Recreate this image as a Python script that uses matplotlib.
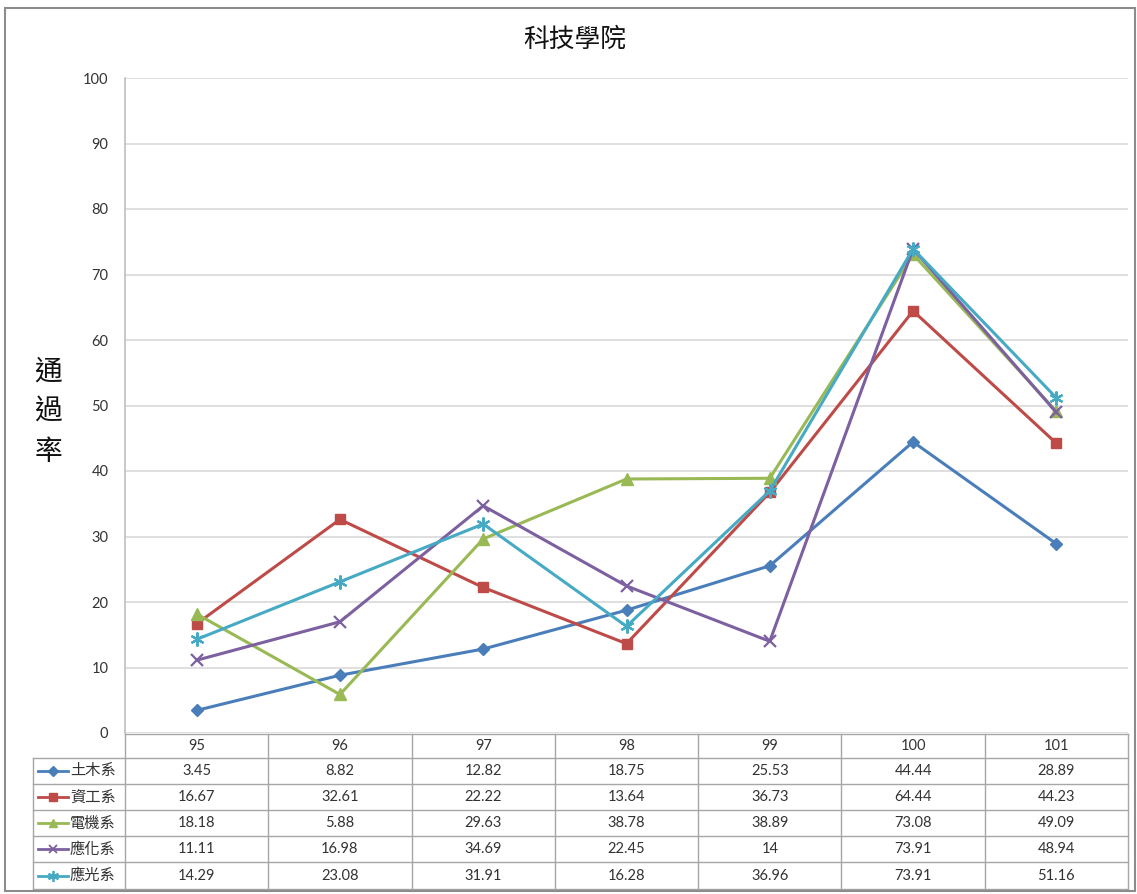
import matplotlib
matplotlib.use("Agg")
import matplotlib.pyplot as plt
from matplotlib.patches import Rectangle

plt.rcParams['font.family'] = ['Lato', 'Noto Sans CJK TC', 'DejaVu Sans']
CJK = ['Noto Sans CJK TC', 'DejaVu Sans']

years = ["95", "96", "97", "98", "99", "100", "101"]
dept_names = ["土木系", "資工系", "電機系", "應化系", "應光系"]
civil = [3.45, 8.82, 12.82, 18.75, 25.53, 44.44, 28.89]
csie = [16.67, 32.61, 22.22, 13.64, 36.73, 64.44, 44.23]
ee = [18.18, 5.88, 29.63, 38.78, 38.89, 73.08, 49.09]
chem = [11.11, 16.98, 34.69, 22.45, 14, 73.91, 48.94]
optics = [14.29, 23.08, 31.91, 16.28, 36.96, 73.91, 51.16]
table_text = [
    ["3.45", "8.82", "12.82", "18.75", "25.53", "44.44", "28.89"],
    ["16.67", "32.61", "22.22", "13.64", "36.73", "64.44", "44.23"],
    ["18.18", "5.88", "29.63", "38.78", "38.89", "73.08", "49.09"],
    ["11.11", "16.98", "34.69", "22.45", "14", "73.91", "48.94"],
    ["14.29", "23.08", "31.91", "16.28", "36.96", "73.91", "51.16"],
]
series = [civil, csie, ee, chem, optics]
colors = ["#4a7ebb", "#be4b48", "#98b954", "#7d60a0", "#46aac5"]
markers = ["D", "s", "^", "x", (6, 2, 0)]
msizes = [6, 7.5, 8, 8, 10]

W, H = 1137, 894
fig = plt.figure(figsize=(W / 100, H / 100), dpi=100)
fig.patch.set_facecolor("white")

def fx(px):
    return px / W

def fy(py):
    return 1 - py / H

# outer border
fig.add_artist(Rectangle((fx(5), fy(891)), fx(1130), 883 / H, transform=fig.transFigure,
                         fill=False, edgecolor="#8c8c8c", lw=1.5))

ax = fig.add_axes([fx(125), fy(733), fx(1128 - 125), (733 - 78) / H])
x = list(range(len(years)))
for s, c, m, ms in zip(series, colors, markers, msizes):
    mew = 1.6 if m in ("x",) or isinstance(m, tuple) else 1
    ax.plot(x, s, color=c, lw=2.2, marker=m, markersize=ms, markeredgewidth=mew,
            markerfacecolor=c, markeredgecolor=c, zorder=3)
ax.set_xlim(-0.5, len(years) - 0.5)
ax.set_ylim(0, 100)
ax.set_yticks(range(0, 101, 10))
ax.set_xticks([])
ax.grid(axis="y", color="#d9d9d9", lw=1.2)
ax.set_axisbelow(True)
for sp in ["top", "right", "bottom"]:
    ax.spines[sp].set_visible(False)
ax.spines["left"].set_color("#bfbfbf")
ax.spines["left"].set_linewidth(1.2)
ax.tick_params(axis="y", length=0, pad=12, labelsize=10.5, labelcolor="#333333")

fig.text(fx(575), fy(40), "科技學院", ha="center", va="center", fontsize=18.5,
         color="#111111", family=CJK)
fig.text(fx(48), fy(412), "通\n過\n率", ha="center", va="center", fontsize=20,
         linespacing=1.45, color="#111111", family=CJK)

# data table
tax = fig.add_axes([fx(125), fy(889), fx(1128 - 125), (889 - 734) / H])
tax.set_xlim(-0.5, len(years) - 0.5)
tax.set_ylim(155, 0)
tax.axis("off")
row_edges = [0, 24, 50, 76, 102, 128, 155]
left_label = -0.5 - (125 - 33) / 143.3
lc = "#a6a6a6"
tax.plot([-0.5, 6.5], [row_edges[0]] * 2, color=lc, lw=1, clip_on=False)
for yv in row_edges[1:]:
    tax.plot([left_label, 6.5], [yv] * 2, color=lc, lw=1, clip_on=False)
for i in range(len(years) + 1):
    tax.plot([i - 0.5] * 2, [0, 155], color=lc, lw=1, clip_on=False)
tax.plot([left_label] * 2, [24, 155], color=lc, lw=1, clip_on=False)
for i, yr in enumerate(years):
    tax.text(i, 12, yr, ha="center", va="center", fontsize=10.5, color="#333333")
for r, (name, c, m, ms) in enumerate(zip(dept_names, colors, markers, msizes)):
    yc = (row_edges[r + 1] + row_edges[r + 2]) / 2
    u = 1 / 143.3
    x0 = left_label + 5 * u
    x1 = left_label + 35 * u
    mew = 1.3 if m in ("x",) or isinstance(m, tuple) else 1
    tax.plot([x0, x1], [yc, yc], color=c, lw=2, clip_on=False)
    tax.plot([(x0 + x1) / 2], [yc], color=c, marker=m, markersize=ms * 0.8,
             markeredgewidth=mew, clip_on=False)
    tax.text(left_label + 37 * u, yc, name, ha="left", va="center", fontsize=11,
             color="#333333", clip_on=False, family=CJK)
    for i, t in enumerate(table_text[r]):
        tax.text(i, yc, t, ha="center", va="center", fontsize=10.5, color="#333333")

fig.savefig("out.png", dpi=100, facecolor="white")
